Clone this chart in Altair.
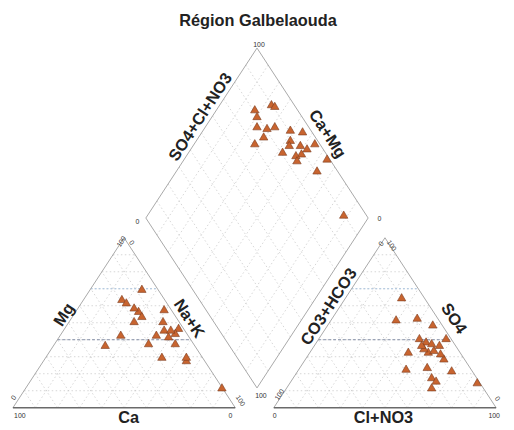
import altair as alt
import pandas as pd

# ---------------- data (percent of meq/L), one entry per sample ----------------
title_text = "Région Galbelaouda"
ca  = [7, 19, 18, 40, 15, 20, 30, 3, 9, 7, 8, 20, 14, 2, 9, 18, 5, 8, 7, 0, 16, 15, 6]
mg  = [70, 64, 62, 37, 57, 51, 43, 58, 46, 51, 38, 38, 43, 47, 42, 30, 44, 28, 30, 12, 59, 54, 46]
cl  = [25, 29, 62, 65, 65, 44, 48, 38, 47, 49, 57, 57, 53, 55, 45, 56, 50, 84, 62, 52, 59, 48, 69]
so4 = [65, 52, 18, 12, 16, 33, 23, 53, 49, 39, 41, 24, 33, 34, 41, 37, 35, 15, 29, 38, 32, 37, 22]
grid_levels = [10, 20, 30, 40, 50, 60, 70, 80, 90]
ref_levels = [40, 70]
axis_names = ["Ca", "Mg", "Na+K", "Cl+NO3", "SO4", "CO3+HCO3", "SO4+Cl+NO3", "Ca+Mg"]

# ---------------- geometry ----------------
PX_X, PX_Y = 225.0, 172.0          # px per unit
OX, OY = 13.0, 410.0               # page px of left triangle's Ca corner
X0 = (277.0 - OX) / PX_X           # right triangle offset
XB, YB = (260.0 - OX) / PX_X, 20.0 / PX_Y   # diamond bottom vertex
W, H = 504, 420


def u(px, py):
    return (px - OX) / PX_X, (OY - py) / PX_Y


xmin = (8 - OX) / PX_X
xmax = (8 + W - OX) / PX_X
ymin = (OY - (8 + H)) / PX_Y
ymax = (OY - 8) / PX_Y
xs = alt.Scale(domain=[xmin, xmax], nice=False, zero=False)
ys = alt.Scale(domain=[ymin, ymax], nice=False, zero=False)


def seg_df(segs):
    return pd.DataFrame([dict(x=a[0], y=a[1], x2=b[0], y2=b[1]) for a, b in segs])


def rules(df, **kw):
    return alt.Chart(df).mark_rule(**kw).encode(
        x=alt.X("x:Q", scale=xs, axis=None),
        y=alt.Y("y:Q", scale=ys, axis=None),
        x2="x2:Q", y2="y2:Q")


# outlines
slanted = [((0, 0), (0.5, 1)), ((1, 0), (0.5, 1)),
           ((X0, 0), (X0 + 0.5, 1)), ((X0 + 1, 0), (X0 + 0.5, 1)),
           ((XB, YB), (XB - 0.5, YB + 1)), ((XB - 0.5, YB + 1), (XB, YB + 2)),
           ((XB, YB + 2), (XB + 0.5, YB + 1)), ((XB + 0.5, YB + 1), (XB, YB))]
bases = [((0, 0), (1, 0)), ((X0, 0), (X0 + 1, 0))]

# grid
grid = []
for p in grid_levels:
    f = p / 100
    for ox in (0, X0):
        grid.append(((ox + 0.5 * f, f), (ox + 1 - 0.5 * f, f)))
        grid.append(((ox + f, 0), (ox + f + 0.5 * (1 - f), 1 - f)))
        grid.append(((ox + 1 - f, 0), (ox + 0.5 * (1 - f), 1 - f)))
    a = (XB - 0.5 * f, YB + f)
    grid.append((a, (a[0] + 0.5, a[1] + 1)))
    b = (XB + 0.5 * f, YB + f)
    grid.append((b, (b[0] - 0.5, b[1] + 1)))

ref_lo, ref_hi = [], []
for p in ref_levels:
    f = p / 100
    for ox in (0, X0):
        seg = ((ox + 0.5 * f, f), (ox + 1 - 0.5 * f, f))
        (ref_lo if p == ref_levels[0] else ref_hi).append(seg)

# sample positions
rows = []
for a, b, c_, d in zip(ca, mg, cl, so4):
    nak = 100 - a - b
    rows.append(dict(x=(nak + 0.5 * b) / 100, y=b / 100))
    rows.append(dict(x=X0 + (c_ + 0.5 * d) / 100, y=d / 100))
    cc, ss = (a + b) / 100, (c_ + d) / 100
    rows.append(dict(x=XB + 0.5 * (ss - cc), y=YB + cc + ss))
pts = pd.DataFrame(rows)

points = alt.Chart(pts).mark_point(
    shape="triangle-up", filled=True, size=72, fill="#c8642f",
    stroke="#7a3b1e", strokeWidth=0.6, opacity=1).encode(
    x=alt.X("x:Q", scale=xs, axis=None), y=alt.Y("y:Q", scale=ys, axis=None))


def texts(items, angle=0, size=16.5, weight="bold", color="#222"):
    df = pd.DataFrame([dict(t=t, x=u(px, py)[0], y=u(px, py)[1]) for t, px, py in items])
    kw = dict(fontSize=size, fontWeight=weight, color=color, font="Liberation Sans",
              align="center", baseline="middle")
    if angle:
        kw["angle"] = angle
    return alt.Chart(df).mark_text(**kw).encode(
        x=alt.X("x:Q", scale=xs, axis=None), y=alt.Y("y:Q", scale=ys, axis=None), text="t:N")


lab_h = texts([(axis_names[0], 130, 420), (axis_names[3], 388, 420)])
lab_up = texts([(axis_names[1], 65, 316), (axis_names[5], 333, 308),
                (axis_names[6], 203, 116)], angle=303.2)
lab_dn = texts([(axis_names[2], 191, 320), (axis_names[4], 459, 320),
                (axis_names[7], 331, 133)], angle=56.8)

tick_h = texts([("100", 20, 418), ("0", 233, 418), ("0", 278, 418), ("100", 500, 418),
                ("100", 262, 43), ("0", 139, 222), ("0", 384, 219), ("100", 264, 398)],
               size=7, weight="normal", color="#333")
tick_up = texts([("0", 14, 400), ("100", 123, 242), ("100", 283, 397), ("0", 386, 244)],
                angle=303.2, size=7, weight="normal", color="#333")
tick_dn = texts([("0", 133, 243), ("100", 243, 403), ("100", 396, 246), ("0", 503, 401)],
                angle=56.8, size=7, weight="normal", color="#333")

title = texts([(title_text, 261, 19)], size=16.5)

chart = alt.layer(
    rules(seg_df(grid), color="#cccccc", strokeWidth=0.8, strokeDash=[1.5, 2.5]),
    rules(seg_df(ref_hi), color="#a9c4e0", strokeWidth=1, strokeDash=[2, 2]),
    rules(seg_df(ref_lo), color="#8590a8", strokeWidth=1, strokeDash=[3, 2]),
    rules(seg_df(slanted), color="#a8a8a8", strokeWidth=1),
    rules(seg_df(bases), color="#6a6a6a", strokeWidth=1.4),
    points, lab_h, lab_up, lab_dn, tick_h, tick_up, tick_dn, title,
).properties(width=W, height=H, padding=0,
             autosize=alt.AutoSizeParams(type="none")
).configure_view(stroke=None)

chart.save("out.html", embed_options={"renderer": "svg", "actions": False})
